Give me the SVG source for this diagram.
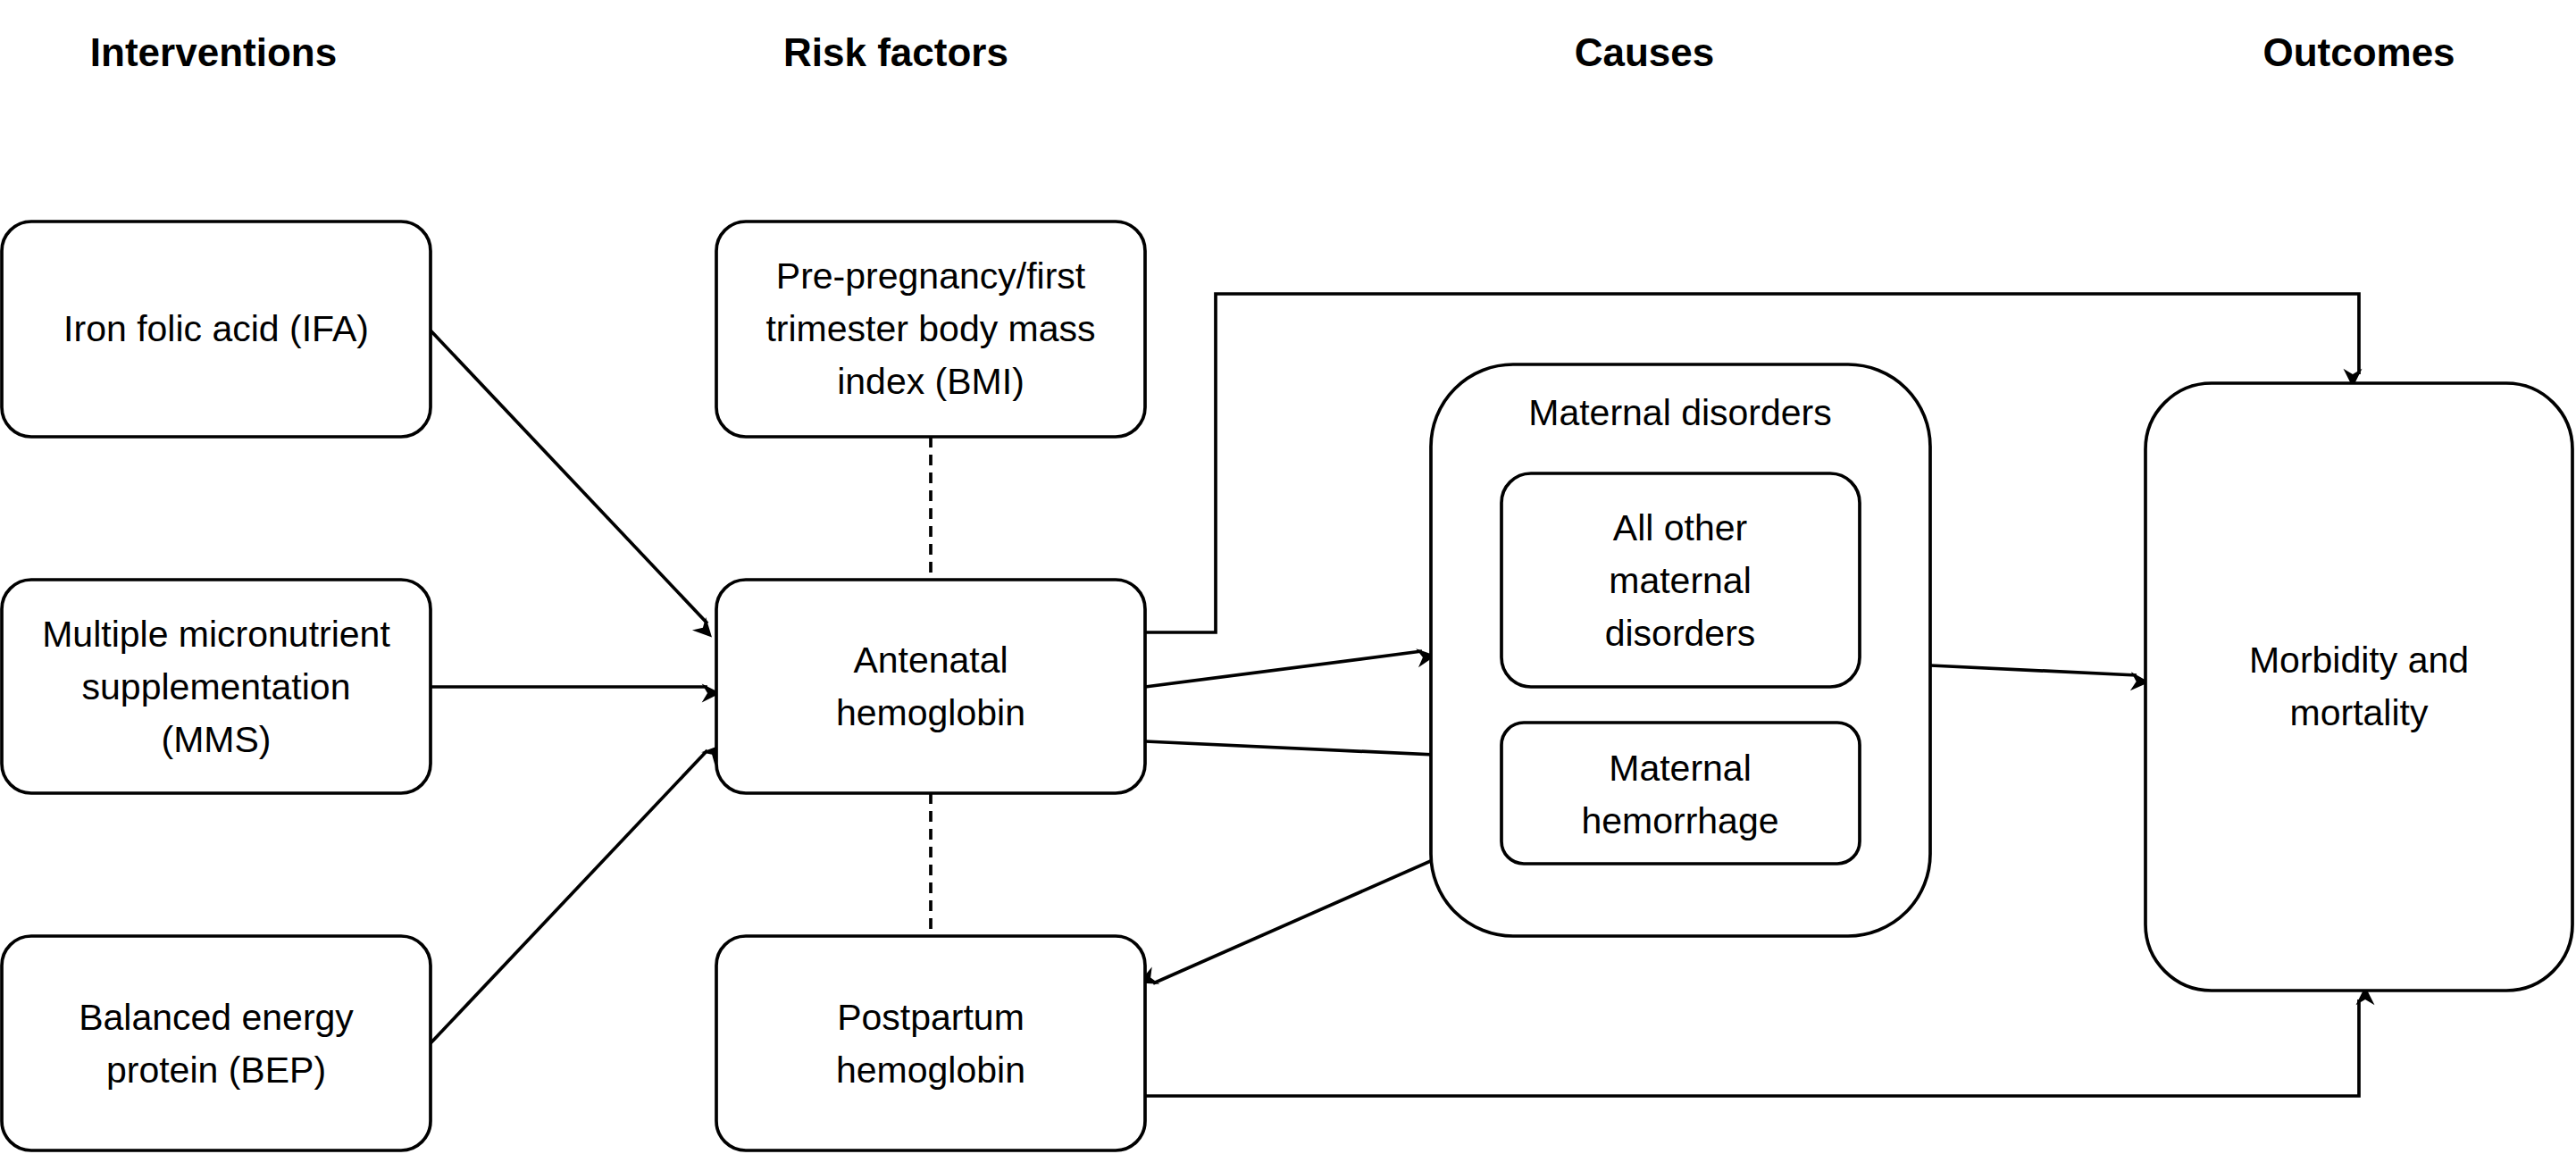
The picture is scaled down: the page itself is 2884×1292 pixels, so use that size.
<svg xmlns="http://www.w3.org/2000/svg" width="2884" height="1292" viewBox="0 0 2884 1292">
<defs>
<style>
.h{font-family:"Liberation Sans",Arial,sans-serif;font-weight:bold;font-size:44px;text-anchor:middle;fill:#000}
.t{font-family:"Liberation Sans",Arial,sans-serif;font-size:41px;text-anchor:middle;fill:#000}
.b{fill:#fff;stroke:#000;stroke-width:3.7}
.c{fill:none;stroke:#000;stroke-width:3.7}
.d{fill:none;stroke:#000;stroke-width:3.7;stroke-dasharray:12 8}
</style>
<marker id="a" viewBox="0 0 10 10" refX="9" refY="5" markerWidth="7" markerHeight="7" markerUnits="userSpaceOnUse" orient="auto" style="overflow:visible">
<path d="M0,0 L10,5 L0,10 L3,5 Z" transform="scale(3)" fill="#000"/>
</marker>
</defs>
<rect width="2884" height="1292" fill="#fff"/>
<g id="headers">
<text class="h" x="239" y="74">Interventions</text>
<text class="h" x="1003" y="74">Risk factors</text>
<text class="h" x="1841" y="74">Causes</text>
<text class="h" x="2641" y="74">Outcomes</text>
</g>
<g id="connectors">
<path class="d" d="M1042,489 V649"/>
<path class="d" d="M1042,888 V1048"/>
<path class="c" d="M482,370 L792,698" marker-end="url(#a)"/>
<path class="c" d="M482,769 L792,769" marker-end="url(#a)"/>
<path class="c" d="M482,1168 L792,840" marker-end="url(#a)"/>
<path class="c" d="M1282,708 H1361 V329 H2641 V419" marker-end="url(#a)"/>
<path class="c" d="M1282,769 L1592,729" marker-end="url(#a)"/>
<path class="c" d="M1282,830 L1671,848" marker-end="url(#a)"/>
<path class="c" d="M2161,745 L2392,756" marker-end="url(#a)"/>
<path class="c" d="M1681,929 L1291,1101" marker-end="url(#a)"/>
<path class="c" d="M1282,1227 H2641 V1119" marker-end="url(#a)"/>
</g>
<g id="ifa"><rect class="b" x="2" y="248" width="480" height="241" rx="33"/><text class="t" x="242" y="382">Iron folic acid (IFA)</text></g>
<g id="mms"><rect class="b" x="2" y="649" width="480" height="239" rx="33"/><text class="t" x="242" y="724">Multiple micronutrient</text><text class="t" x="242" y="783">supplementation</text><text class="t" x="242" y="842">(MMS)</text></g>
<g id="bep"><rect class="b" x="2" y="1048" width="480" height="240" rx="33"/><text class="t" x="242" y="1153">Balanced energy</text><text class="t" x="242" y="1212">protein (BEP)</text></g>
<g id="bmi"><rect class="b" x="802" y="248" width="480" height="241" rx="33"/><text class="t" x="1042" y="323">Pre-pregnancy/first</text><text class="t" x="1042" y="382">trimester body mass</text><text class="t" x="1042" y="441">index (BMI)</text></g>
<g id="antenatal"><rect class="b" x="802" y="649" width="480" height="239" rx="33"/><text class="t" x="1042" y="753">Antenatal</text><text class="t" x="1042" y="812">hemoglobin</text></g>
<g id="postpartum"><rect class="b" x="802" y="1048" width="480" height="240" rx="33"/><text class="t" x="1042" y="1153">Postpartum</text><text class="t" x="1042" y="1212">hemoglobin</text></g>
<g id="disorders"><rect class="b" x="1602" y="408" width="559" height="640" rx="92"/><text class="t" x="1881" y="476">Maternal disorders</text></g>
<g id="other"><rect class="b" x="1681" y="530" width="401" height="239" rx="33"/><text class="t" x="1881" y="605">All other</text><text class="t" x="1881" y="664">maternal</text><text class="t" x="1881" y="723">disorders</text></g>
<g id="hemorrhage"><rect class="b" x="1681" y="809" width="401" height="158" rx="25"/><text class="t" x="1881" y="874">Maternal</text><text class="t" x="1881" y="933">hemorrhage</text></g>
<g id="morbidity"><rect class="b" x="2402" y="429" width="478" height="680" rx="74"/><text class="t" x="2641" y="753">Morbidity and</text><text class="t" x="2641" y="812">mortality</text></g>
</svg>
